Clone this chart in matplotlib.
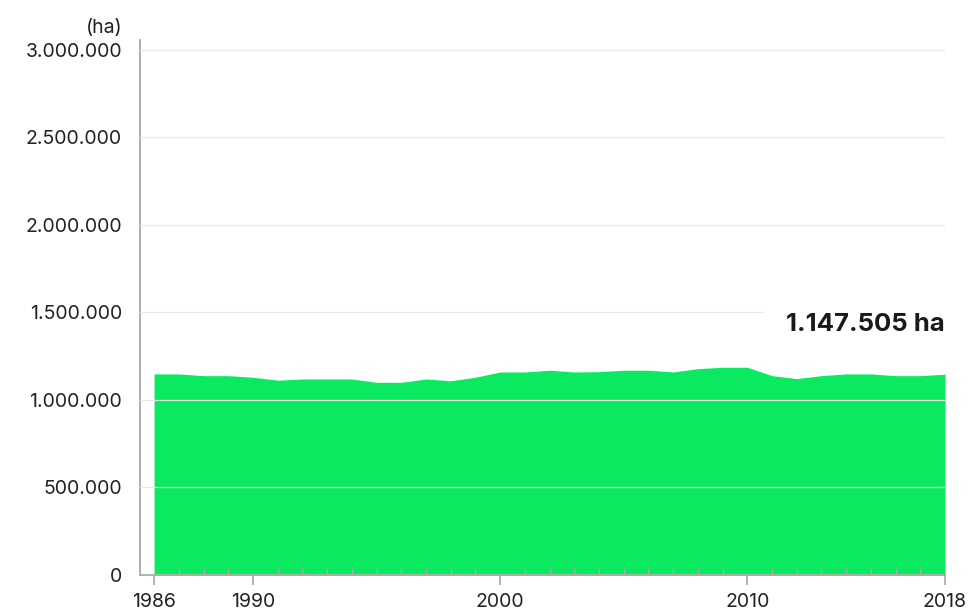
import numpy as np
import matplotlib.pyplot as plt
from matplotlib.ticker import FuncFormatter, MultipleLocator

plt.rcParams['font.family'] = ['Inter', 'DejaVu Sans']

# data (hectares)
years = list(range(1986, 2019))
area_ha = [
    1149000, 1149000, 1139000, 1139000, 1130000, 1113000, 1120000, 1120000,
    1120000, 1101000, 1101000, 1120000, 1110000, 1130000, 1160000, 1160000,
    1170000, 1160000, 1162000, 1170000, 1170000, 1160000, 1179000, 1187000,
    1187000, 1139000, 1122000, 1139000, 1149000, 1149000, 1139000, 1139000,
    1147505,
]
major_years = [1986, 1990, 2000, 2010, 2018]
y_ticks = [0, 500000, 1000000, 1500000, 2000000, 2500000, 3000000]
last_label = '1.147.505 ha'

green = '#0be960'


def thousands(v, pos=None):
    return '{:,.0f}'.format(v).replace(',', '.')


fig = plt.figure(figsize=(9.76, 6.10), dpi=100)
ax = fig.add_axes([140 / 976, 1 - 575 / 610, 805 / 976, 535 / 610])

ax.fill_between(years, area_ha, 0, color=green, linewidth=0, zorder=1)

ax.set_xlim(1985.43, 2018.0)
ax.set_ylim(0, 3057000)

ax.set_yticks(y_ticks)
ax.yaxis.set_major_formatter(FuncFormatter(thousands))
ax.set_xticks(major_years)
ax.xaxis.set_minor_locator(MultipleLocator(1))

ax.grid(axis='y', color='#e8e8e8', linewidth=0.9, zorder=2)
ax.set_axisbelow(False)

for side in ['top', 'right']:
    ax.spines[side].set_visible(False)
for side in ['left', 'bottom']:
    ax.spines[side].set_color('#a8a8a8')
    ax.spines[side].set_linewidth(1.3)

ax.tick_params(axis='y', length=0, labelsize=14, colors='#222222', pad=13)
ax.tick_params(axis='x', which='major', length=7, width=1.2, color='#a8a8a8',
               labelsize=14, labelcolor='#222222', pad=6)
ax.tick_params(axis='x', which='minor', direction='in', length=5, width=1,
               color='#a8a8a8')

ax.text(-0.022, 1.022, '(ha)', transform=ax.transAxes, ha='right', va='center',
        fontsize=14, color='#222222')

ax.text(years[-1], 1430000, last_label, ha='right', va='center',
        fontsize=18.5, fontweight='bold', color='#1a1a1a', zorder=5,
        bbox=dict(facecolor='white', edgecolor='none', pad=16))

fig.savefig('out.png', dpi=100)
